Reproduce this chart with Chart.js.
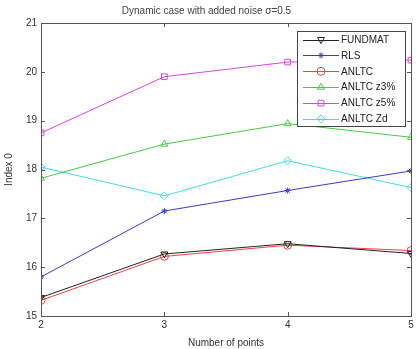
<!DOCTYPE html>
<html>
<head>
<meta charset="utf-8">
<script src="https://cdn.jsdelivr.net/npm/chart.js@4"></script>
<style>
  html, body { margin: 0; padding: 0; background: #fff; }
  #wrap { width: 416px; height: 349px; }
</style>
</head>
<body>
<div id="wrap"><canvas id="chart" width="416" height="349"></canvas></div>
<script>
const points = [2, 3, 4, 5];
const fundmat = [15.38, 16.27, 16.48, 16.28];
const rls = [15.80, 17.15, 17.57, 17.97];
const anltc = [15.32, 16.22, 16.45, 16.34];
const anltcZ3 = [17.82, 18.52, 18.94, 18.66];
const anltcZ5 = [18.75, 19.90, 20.20, 20.24];
const anltcZd = [18.05, 17.46, 18.18, 17.63];
const yTicks = [15, 16, 17, 18, 19, 20, 21];

const FONT = 'Liberation Sans, Arial, sans-serif';

function series(label, vals, color, style, rot, r) {
  return {
    label: label,
    data: vals.map((v, i) => ({x: points[i], y: v})),
    borderColor: color,
    backgroundColor: 'rgba(0,0,0,0)',
    borderWidth: 1,
    pointStyle: style,
    pointRotation: rot || 0,
    pointRadius: r || 4,
    pointBorderWidth: 1,
    pointBorderColor: color,
    pointBackgroundColor: 'rgba(0,0,0,0)',
    tension: 0
  };
}

const datasets = [
  series('FUNDMAT', fundmat, '#222222', 'triangle', 180),
  series('RLS', rls, '#3a3ad0', 'star', 0, 3),
  series('ANLTC', anltc, '#ee4444', 'circle'),
  series('ANLTC z3%', anltcZ3, '#44cc44', 'triangle'),
  series('ANLTC z5%', anltcZ5, '#e040e0', 'rect'),
  series('ANLTC Zd', anltcZd, '#44dddd', 'rectRot')
];

// box, inward ticks and legend, matlab style
const matlabFrame = {
  id: 'matlabFrame',
  afterDatasetsDraw(chart) {
    const ctx = chart.ctx;
    const a = chart.chartArea;
    const xs = chart.scales.x, ys = chart.scales.y;
    ctx.save();
    ctx.strokeStyle = '#555';
    ctx.lineWidth = 1;
    ctx.strokeRect(Math.round(a.left) + 0.5, Math.round(a.top) + 0.5,
      Math.round(a.right - a.left), Math.round(a.bottom - a.top));
    ctx.beginPath();
    points.forEach(p => {
      const px = Math.round(xs.getPixelForValue(p)) + 0.5;
      ctx.moveTo(px, a.bottom); ctx.lineTo(px, a.bottom - 4);
      ctx.moveTo(px, a.top); ctx.lineTo(px, a.top + 4);
    });
    yTicks.forEach(t => {
      const py = Math.round(ys.getPixelForValue(t)) + 0.5;
      ctx.moveTo(a.left, py); ctx.lineTo(a.left + 4, py);
      ctx.moveTo(a.right, py); ctx.lineTo(a.right - 4, py);
    });
    ctx.stroke();

    // legend
    const bx = 297, by = 31, bw = 108, bh = 95;
    ctx.fillStyle = '#fff';
    ctx.fillRect(bx, by, bw, bh);
    ctx.strokeStyle = '#444';
    ctx.strokeRect(bx + 0.5, by + 0.5, bw, bh);
    ctx.font = '10px ' + FONT;
    ctx.textBaseline = 'middle';
    chart.data.datasets.forEach((ds, i) => {
      const y = by + 8.5 + i * 15.9;
      ctx.strokeStyle = ds.borderColor;
      ctx.beginPath();
      ctx.moveTo(303, Math.round(y) + 0.5);
      ctx.lineTo(339, Math.round(y) + 0.5);
      ctx.stroke();
      ctx.fillStyle = 'rgba(0,0,0,0)';
      Chart.helpers.drawPoint(ctx, {
        pointStyle: ds.pointStyle, rotation: ds.pointRotation,
        radius: ds.pointRadius, borderWidth: 1
      }, 321, y);
      ctx.fillStyle = '#222';
      ctx.fillText(ds.label, 341, y + 0.5);
    });
    ctx.restore();
  }
};

new Chart(document.getElementById('chart'), {
  type: 'line',
  data: { datasets: datasets },
  options: {
    responsive: false,
    animation: false,
    layout: { padding: { left: 0, right: 3, top: 0, bottom: 0 } },
    plugins: {
      legend: { display: false },
      tooltip: { enabled: false },
      title: {
        display: true,
        text: 'Dynamic case with added noise \u03c3=0.5',
        color: '#444',
        font: { family: FONT, size: 10, weight: 'normal' },
        padding: { top: 5, bottom: 6 }
      }
    },
    scales: {
      x: {
        type: 'linear',
        min: 2, max: 5,
        afterBuildTicks: s => { s.ticks = points.map(v => ({value: v})); },
        afterFit: s => { s.height = 33; s.paddingRight = 0; s.paddingLeft = 0; },
        grid: { display: false, drawTicks: false },
        border: { display: false },
        ticks: { color: '#333', font: { family: FONT, size: 10 }, padding: 3 },
        title: {
          display: true, text: 'Number of points', color: '#333',
          font: { family: FONT, size: 10 }, padding: { top: 1, bottom: 0 }
        }
      },
      y: {
        min: 15, max: 21,
        afterBuildTicks: s => { s.ticks = yTicks.map(v => ({value: v})); },
        afterFit: s => { s.width = 41; },
        grid: { display: false, drawTicks: false },
        border: { display: false },
        ticks: { color: '#333', font: { family: FONT, size: 10 }, padding: 4 },
        title: {
          display: true, text: 'Index 0', color: '#333',
          font: { family: FONT, size: 10 }, padding: { top: 3, bottom: 2 }
        }
      }
    }
  },
  plugins: [matlabFrame]
});
</script>
</body>
</html>
